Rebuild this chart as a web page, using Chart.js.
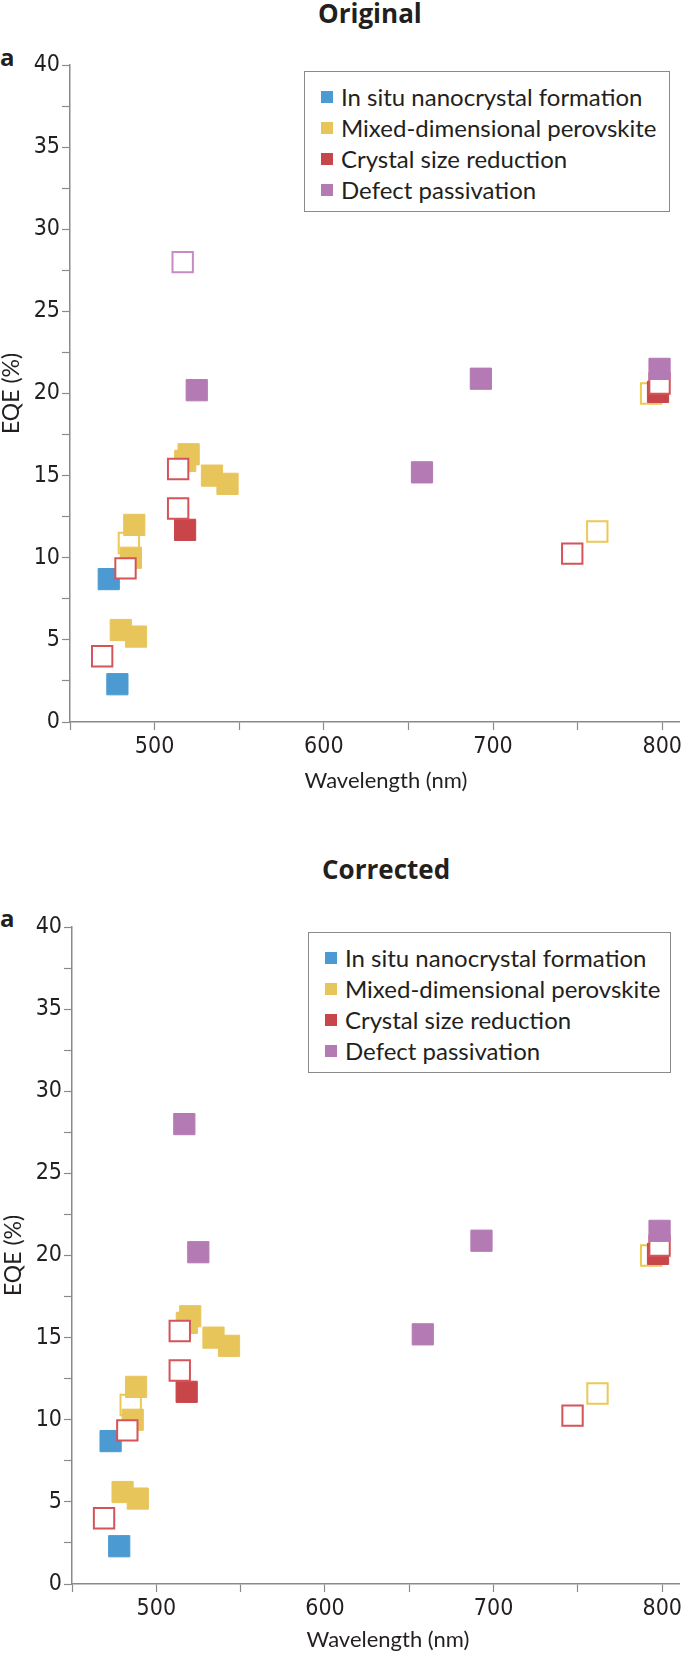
<!DOCTYPE html>
<html>
<head>
<meta charset="utf-8">
<script src="https://cdn.jsdelivr.net/npm/chart.js@4.4.0/dist/chart.umd.min.js"></script>
<style>
  html, body { margin: 0; padding: 0; background: #fff; overflow: hidden; }
  #page { position: relative; width: 685px; height: 1653px; color: #231f20; font-family: Lato, "Open Sans", sans-serif; }
  .panel { position: absolute; left: 0; width: 685px; height: 800px; }
  .title { position: absolute; font-family: "Open Sans", sans-serif; font-weight: bold; font-size: 26px; line-height: 1; white-space: nowrap; }
  .tag { position: absolute; font-family: "Open Sans", sans-serif; font-weight: bold; font-size: 24px; line-height: 1; }
  .xtitle { position: absolute; width: 300px; margin-left: -150px; text-align: center; font-size: 22px; height: 26px; line-height: 26px; white-space: nowrap; }
  .legend { position: absolute; border: 1.5px solid #8a8a8a; box-sizing: border-box; background: #fff; padding-top: 9px; }
  .legend .row { height: 31px; display: flex; align-items: center; padding-left: 16px; font-size: 24px; white-space: nowrap; }
  .legend .sw { width: 12px; height: 12px; margin-right: 8px; flex: none; }
</style>
</head>
<body>
<div id="page">
  <div class="title" style="left:318px; top:0px;">Original</div>
  <div class="tag" style="left:0px; top:45px;">a</div>
  <div class="panel" style="top:0px;"><canvas id="chartTop" width="685" height="800"></canvas></div>
  <div class="legend" id="legendTop" style="left:304px; top:71px; width:366px; height:141px;"></div>
  <div class="xtitle" style="left:386px; top:767px;">Wavelength (nm)</div>

  <div class="title" style="left:322px; top:856px;">Corrected</div>
  <div class="tag" style="left:0px; top:906px;">a</div>
  <div class="panel" style="top:853px; left:2px; width:683px;"><canvas id="chartBottom" width="683" height="800"></canvas></div>
  <div class="legend" id="legendBottom" style="left:308px; top:932px; width:363px; height:141px;"></div>
  <div class="xtitle" style="left:388px; top:1626px;">Wavelength (nm)</div>
</div>

<script>
// axis ranges and tick labels
var xMin = 450, xMax = 810;
var yMin = 0, yMax = 40;
var xTickLabels = [500, 600, 700, 800];
var yTickLabels = [0, 5, 10, 15, 20, 25, 30, 35, 40];

var categories = ['In situ nanocrystal formation', 'Mixed-dimensional perovskite', 'Crystal size reduction', 'Defect passivation'];
var colors = ['#4b9ad2', '#e8c55b', '#c8464a', '#b47ab4'];
var openColors = ['#4b9ad2', '#ecc855', '#d4545a', '#c68ac6'];

// In situ nanocrystal formation
var insituX = [472.9, 478.0];
var insituY = [8.7, 2.3];

// Mixed-dimensional perovskite (filled / open)
var mixedX = [520.1, 518.1, 533.9, 543.1, 488.0, 486.0, 480.0, 489.0];
var mixedY = [16.3, 15.9, 15.0, 14.5, 12.0, 10.0, 5.6, 5.2];
var mixedOpenX = [484.8, 761.6, 793.4];
var mixedOpenY = [10.9, 11.6, 20.0];

// Crystal size reduction (filled / open)
var sizeX = [518.0, 797.5];
var sizeY = [11.7, 20.1];
var sizeOpenX = [513.9, 513.9, 482.8, 469.0, 746.8, 798.4];
var sizeOpenY = [15.4, 13.0, 9.35, 4.0, 10.25, 20.6];

// Defect passivation
var defectX = [524.9, 692.8, 658.0, 798.4];
var defectY = [20.2, 20.9, 15.2, 21.5];
// this one is open in the original panel, filled in the corrected one
var defectFixX = [516.6];
var defectFixY = [28.0];

var tickFont = { family: '"Liberation Sans Narrow", "DejaVu Sans Condensed", sans-serif', size: 23 };
var labelFont = { family: 'Lato, "Open Sans", sans-serif', size: 23, lineHeight: 1.05 };

function pts(xs, ys) {
    var out = [];
    for (var i = 0; i < xs.length; i++) out.push({ x: xs[i], y: ys[i] });
    return out;
}

function filled(xs, ys, c, order) {
    return { data: pts(xs, ys), order: order, pointStyle: 'rect', pointRadius: 15,
        backgroundColor: colors[c], borderColor: colors[c], borderWidth: 1 };
}

function open(xs, ys, c, order) {
    return { data: pts(xs, ys), order: order, pointStyle: 'rect', pointRadius: 14.4,
        backgroundColor: '#ffffff', borderColor: openColors[c], borderWidth: 2 };
}

function buildLegend(id) {
    var box = document.getElementById(id);
    categories.forEach(function (name, i) {
        var row = document.createElement('div');
        row.className = 'row';
        var sw = document.createElement('span');
        sw.className = 'sw';
        sw.style.background = colors[i];
        row.appendChild(sw);
        row.appendChild(document.createTextNode(name));
        box.appendChild(row);
    });
}

function makeChart(id, corrected, padTop, axisH) {
    var fix = corrected ? filled(defectFixX, defectFixY, 3, 2) : open(defectFixX, defectFixY, 3, 2);
    var ctx = document.getElementById(id).getContext('2d');
    return new Chart(ctx, {
        type: 'scatter',
        data: {
            datasets: [
                filled(defectX, defectY, 3, 1),
                fix,
                open(sizeOpenX, sizeOpenY, 2, 3),
                filled(sizeX, sizeY, 2, 4),
                filled(mixedX, mixedY, 1, 5),
                filled(insituX, insituY, 0, 6),
                open(mixedOpenX, mixedOpenY, 1, 7)
            ]
        },
        options: {
            responsive: false,
            animation: false,
            layout: { autoPadding: false, padding: { top: padTop, right: 0, bottom: 0, left: 0 } },
            plugins: { legend: { display: false }, tooltip: { enabled: false } },
            scales: {
                x: {
                    type: 'linear', min: xMin, max: xMax,
                    border: { color: '#8a8a8a', width: 1.5 },
                    grid: { drawOnChartArea: false, drawTicks: true, tickLength: 8, tickColor: '#8a8a8a', tickWidth: 1.2 },
                    ticks: {
                        stepSize: 50, includeBounds: false, autoSkip: false, maxRotation: 0, padding: 3,
                        color: '#231f20', font: tickFont,
                        callback: function (v) { return xTickLabels.indexOf(v) >= 0 ? String(v) : ''; }
                    },
                    afterFit: function (s) { s.height = axisH; }
                },
                y: {
                    type: 'linear', min: yMin, max: yMax,
                    border: { color: '#8a8a8a', width: 1.5 },
                    grid: { drawOnChartArea: false, drawTicks: true, tickLength: 8, tickColor: '#8a8a8a', tickWidth: 1.2 },
                    ticks: {
                        stepSize: 2.5, autoSkip: false, padding: 2,
                        color: '#231f20', font: tickFont,
                        callback: function (v) { return yTickLabels.indexOf(v) >= 0 ? String(v) : ''; }
                    },
                    title: { display: true, text: 'EQE (%)', color: '#231f20', font: labelFont, padding: 0 },
                    afterFit: function (s) { s.width = 70; }
                }
            }
        }
    });
}

buildLegend('legendTop');
buildLegend('legendBottom');
makeChart('chartTop', false, 65, 78);
makeChart('chartBottom', true, 74, 69);
</script>
</body>
</html>
